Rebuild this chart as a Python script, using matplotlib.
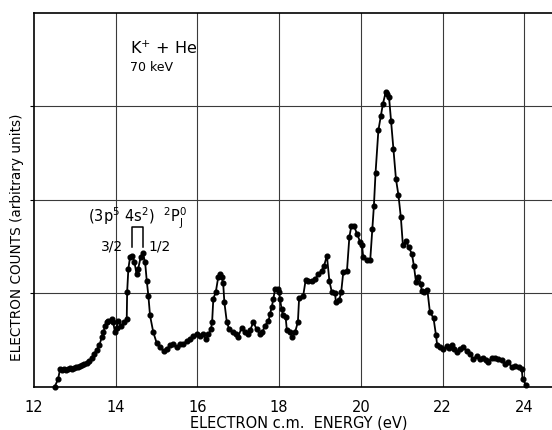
import matplotlib
matplotlib.use("Agg")
import matplotlib.pyplot as plt

# Electron c.m. energy (eV) and electron counts (arbitrary units, grid = 1 unit)
energy = [12.51, 12.59, 12.64, 12.69, 12.73, 12.78, 12.83, 12.88, 12.93, 12.98,
          13.03, 13.08, 13.13, 13.18, 13.22, 13.29, 13.35, 13.41, 13.47, 13.53,
          13.60, 13.66, 13.70, 13.74, 13.78, 13.82, 13.90, 13.94, 13.98, 14.02,
          14.06, 14.13, 14.21, 14.27, 14.28, 14.31, 14.35, 14.41, 14.46, 14.51,
          14.55, 14.61, 14.66, 14.72, 14.76, 14.80, 14.84, 14.92, 15.00, 15.08,
          15.17, 15.25, 15.33, 15.41, 15.49, 15.57, 15.65, 15.74, 15.82, 15.90,
          15.98, 16.06, 16.14, 16.21, 16.27, 16.33, 16.36, 16.39, 16.45, 16.51,
          16.55, 16.59, 16.63, 16.66, 16.72, 16.78, 16.88, 16.94, 17.00, 17.08,
          17.17, 17.23, 17.29, 17.37, 17.45, 17.53, 17.59, 17.65, 17.74, 17.78,
          17.82, 17.86, 17.90, 17.97, 18.00, 18.02, 18.06, 18.10, 18.16, 18.19,
          18.27, 18.32, 18.39, 18.46, 18.49, 18.59, 18.65, 18.71, 18.80, 18.88,
          18.96, 19.04, 19.10, 19.17, 19.23, 19.29, 19.37, 19.39, 19.47, 19.52,
          19.57, 19.66, 19.72, 19.77, 19.83, 19.91, 19.98, 20.03, 20.06, 20.14,
          20.23, 20.28, 20.32, 20.36, 20.43, 20.49, 20.54, 20.61, 20.65, 20.69,
          20.74, 20.80, 20.86, 20.92, 20.98, 21.03, 21.11, 21.17, 21.25, 21.30,
          21.35, 21.41, 21.47, 21.49, 21.55, 21.63, 21.69, 21.78, 21.84, 21.87,
          21.94, 22.02, 22.10, 22.16, 22.23, 22.28, 22.35, 22.43, 22.51, 22.59,
          22.67, 22.75, 22.84, 22.92, 23.00, 23.07, 23.12, 23.20, 23.29, 23.37,
          23.45, 23.53, 23.61, 23.69, 23.78, 23.86, 23.94, 23.96, 24.04]
counts = [0.00, 0.08, 0.19, 0.18, 0.19, 0.18, 0.19, 0.20, 0.19, 0.20,
          0.21, 0.21, 0.22, 0.23, 0.24, 0.25, 0.27, 0.30, 0.35, 0.39,
          0.44, 0.53, 0.58, 0.65, 0.69, 0.70, 0.72, 0.69, 0.58, 0.63,
          0.70, 0.65, 0.69, 0.72, 1.01, 1.26, 1.38, 1.40, 1.33, 1.20,
          1.26, 1.38, 1.43, 1.33, 1.13, 0.97, 0.76, 0.58, 0.47, 0.42,
          0.38, 0.40, 0.44, 0.45, 0.42, 0.45, 0.45, 0.49, 0.51, 0.54,
          0.56, 0.54, 0.56, 0.51, 0.56, 0.61, 0.69, 0.94, 1.01, 1.17,
          1.20, 1.17, 1.11, 0.90, 0.69, 0.61, 0.58, 0.56, 0.53, 0.63,
          0.58, 0.56, 0.60, 0.69, 0.61, 0.56, 0.58, 0.65, 0.70, 0.78,
          0.85, 0.94, 1.04, 1.04, 1.01, 0.94, 0.83, 0.76, 0.74, 0.60,
          0.58, 0.53, 0.58, 0.69, 0.95, 0.97, 1.14, 1.13, 1.13, 1.15,
          1.20, 1.24, 1.29, 1.40, 1.13, 1.01, 1.00, 0.90, 0.92, 1.01,
          1.22, 1.23, 1.60, 1.72, 1.72, 1.63, 1.55, 1.51, 1.38, 1.35,
          1.35, 1.68, 1.93, 2.28, 2.74, 2.89, 3.02, 3.15, 3.13, 3.10,
          2.84, 2.54, 2.22, 2.05, 1.81, 1.51, 1.56, 1.49, 1.42, 1.29,
          1.12, 1.17, 1.10, 1.02, 1.01, 1.03, 0.80, 0.73, 0.55, 0.44,
          0.42, 0.40, 0.43, 0.41, 0.44, 0.40, 0.37, 0.40, 0.42, 0.38,
          0.35, 0.29, 0.33, 0.29, 0.31, 0.28, 0.26, 0.31, 0.31, 0.29,
          0.28, 0.24, 0.26, 0.21, 0.22, 0.21, 0.19, 0.08, 0.02]

x_ticks = [12, 14, 16, 18, 20, 22, 24]
x_tick_labels = ["12", "14", "16", "18", "20", "22", "24"]
y_grid = [1, 2, 3]

plt.rcParams['font.family'] = ['DejaVu Sans']
plt.rcParams['mathtext.fontset'] = 'dejavusans'

W, H = 552, 431
fig = plt.figure(figsize=(W / 100, H / 100), dpi=100)
ax = fig.add_axes([34 / W, (H - 387.5) / H, 1 - 34 / W, (387.5 - 13.5) / H])

ax.set_xlim(12, 24.68)
ax.set_ylim(0, 4.0)

for xv in x_ticks[1:]:
    ax.axvline(xv, color='#3a3a3a', lw=0.8, zorder=1)
for yv in y_grid:
    ax.axhline(yv, color='#3a3a3a', lw=0.8, zorder=1)

ax.plot(energy, counts, color='black', lw=1.3, marker='o', markersize=3.4,
        markerfacecolor='black', markeredgecolor='black', zorder=3, clip_on=False)

ax.set_xticks(x_ticks)
ax.set_xticklabels(x_tick_labels, fontsize=10.5)
ax.tick_params(axis='x', length=0, pad=9)
ax.set_yticks(y_grid)
ax.set_yticklabels([])
ax.tick_params(axis='y', length=3, width=0.8, direction='out')

for s in ['left', 'bottom', 'top']:
    ax.spines[s].set_linewidth(1.2)
ax.spines['right'].set_visible(False)

fig.text(299 / W, 1 - 423 / H, "ELECTRON c.m.  ENERGY (eV)", ha='center', va='center',
         fontsize=10.5)
fig.text(17 / W, 1 - 237 / H, "ELECTRON COUNTS (arbitrary units)", ha='center',
         va='center', rotation=90, fontsize=9.8)

ax.text(14.34, 3.63, r"K$^{+}$ + He", fontsize=11.5, ha='left', va='center')
ax.text(14.34, 3.42, "70 keV", fontsize=9, ha='left', va='center')

ax.text(13.33, 1.76, r"$\mathrm{(3p^{5}\ 4s^{2})\ \ {}^{2}P^{0}_{J}}$", fontsize=10.5,
        ha='left', va='baseline')
ax.text(13.91, 1.47, "3/2", fontsize=10, ha='center', va='baseline')
ax.text(15.08, 1.47, "1/2", fontsize=10, ha='center', va='baseline')
ax.plot([14.40, 14.40, 14.67, 14.67], [1.49, 1.71, 1.71, 1.49], color='black', lw=1.1)

fig.savefig("out.png", dpi=100)
